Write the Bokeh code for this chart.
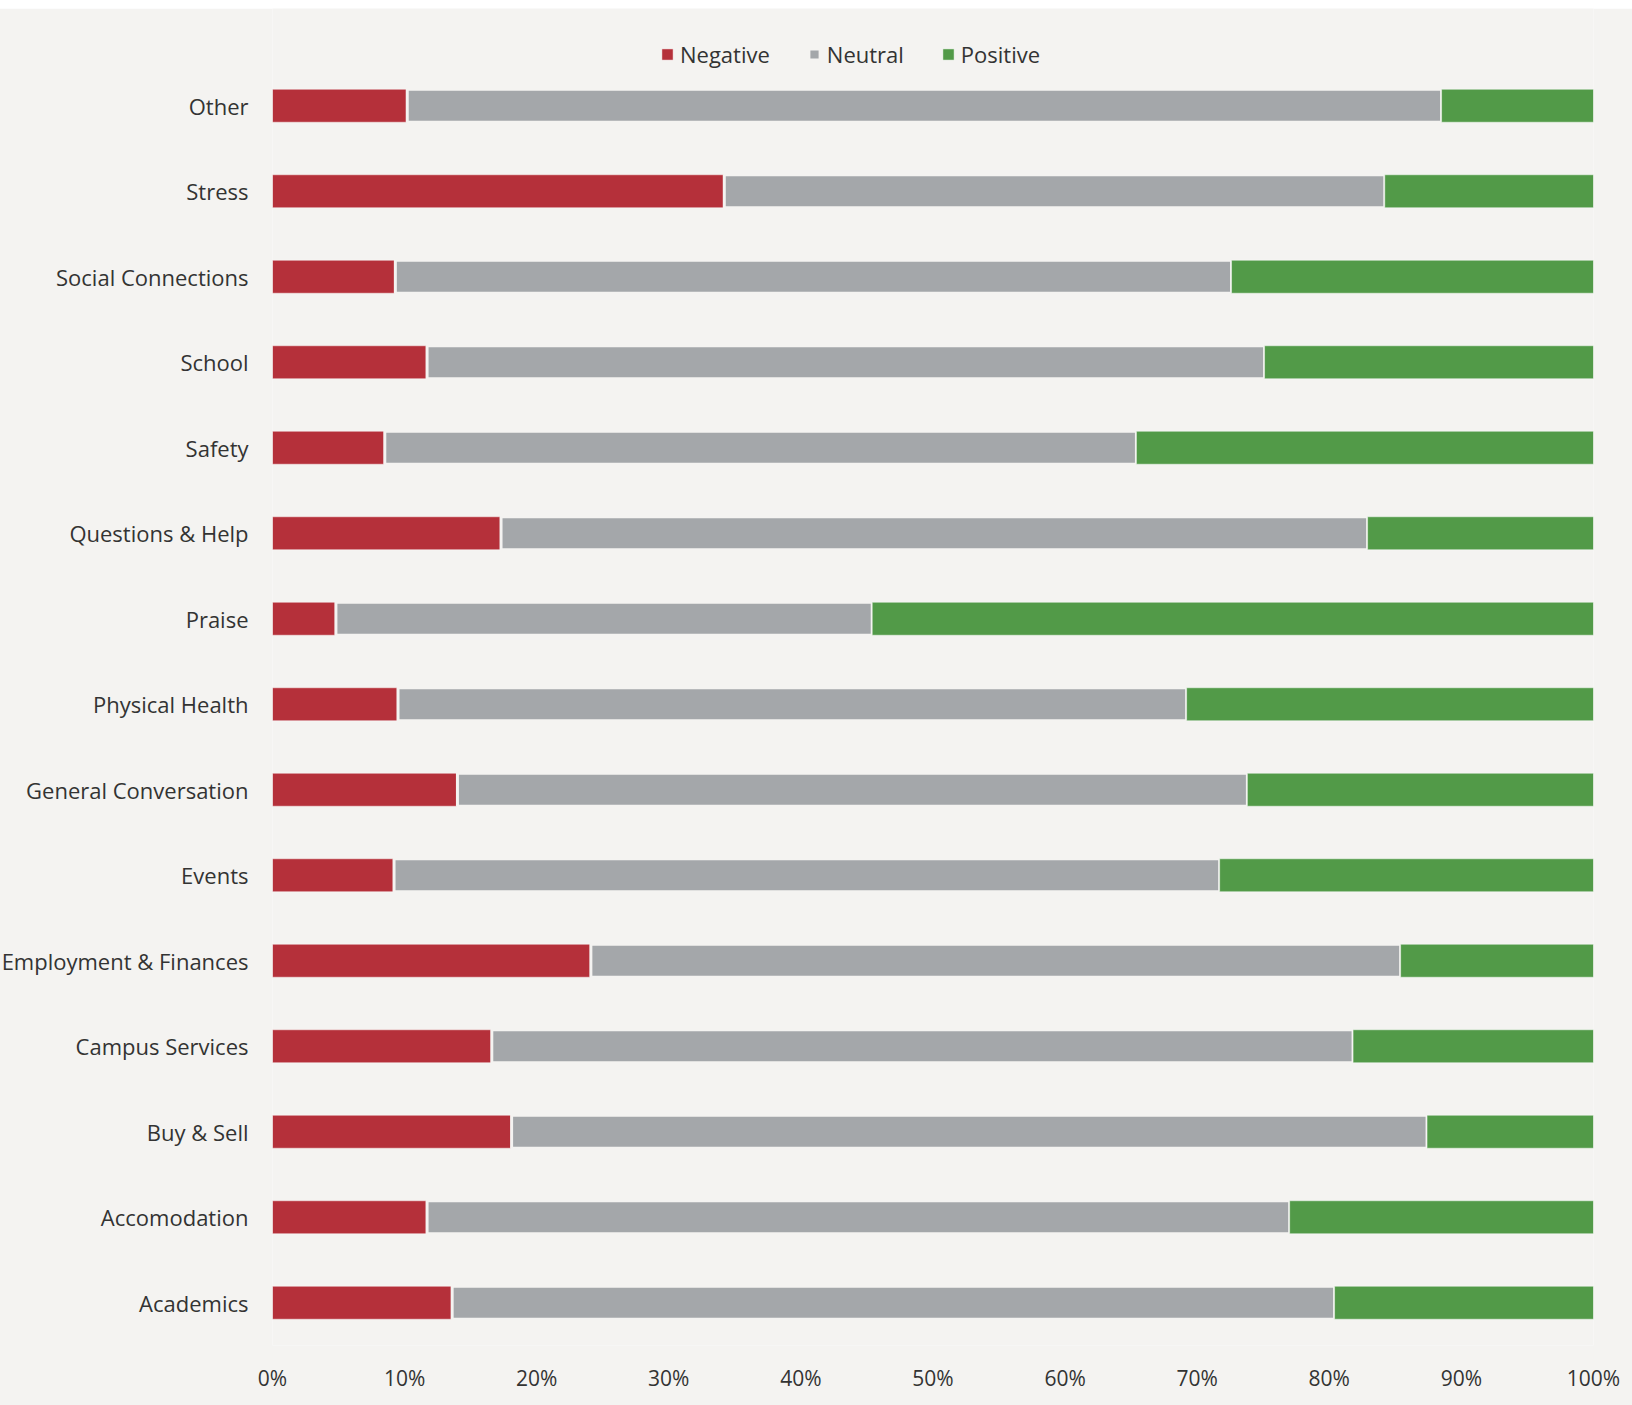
import numpy as np
from bokeh.plotting import figure
from bokeh.layouts import column
from bokeh.models import (ColumnDataSource, Range1d, FixedTicker, Legend, LegendItem, Spacer)
from bokeh.embed import file_html
from bokeh.resources import INLINE

# ---- data (top-to-bottom as displayed) ----
categories = ["Other", "Stress", "Social Connections", "School", "Safety",
              "Questions & Help", "Praise", "Physical Health", "General Conversation",
              "Events", "Employment & Finances", "Campus Services", "Buy & Sell",
              "Accomodation", "Academics"]
negative = [10.2, 34.2, 9.3, 11.7, 8.5, 17.3, 4.8, 9.5, 14.0, 9.2, 24.1, 16.6, 18.1, 11.7, 13.6]
neutral = [78.3, 50.0, 63.3, 63.4, 56.9, 65.6, 40.6, 59.7, 59.8, 62.5, 61.3, 65.2, 69.3, 65.3, 66.8]
positive = [11.5, 15.8, 27.4, 24.9, 34.6, 17.1, 54.6, 30.8, 26.2, 28.3, 14.6, 18.2, 12.6, 23.0, 19.6]
series_names = ["Negative", "Neutral", "Positive"]
x_ticks = [0, 10, 20, 30, 40, 50, 60, 70, 80, 90, 100]
tick_labels = ["0%", "10%", "20%", "30%", "40%", "50%", "60%", "70%", "80%", "90%", "100%"]

BG = "#f4f3f1"
TEXT = "#333333"
colors = ["#b5303a", "#a4a7aa", "#529a48"]
FONT = "Open Sans"

n = len(categories)
ypos = list(range(n - 1, -1, -1))  # Other at top, Academics at bottom

neg = np.array(negative)
neu = np.array(neutral)
pos = np.array(positive)
src = ColumnDataSource(dict(
    y=ypos,
    n0=np.zeros_like(neg), n1=neg,
    u0=neg, u1=neg + neu,
    p0=neg + neu, p1=neg + neu + pos,
))

p = figure(width=1642, height=1397, output_backend="svg", toolbar_location=None,
           y_range=Range1d(-0.5, -0.5 + 1337 / 85.5),
           x_range=Range1d(0, 100),
           min_border_left=277, min_border_right=39, min_border_top=0, min_border_bottom=60)
p.margin = (0, 0, 0, -5)
p.background_fill_color = BG
p.border_fill_color = BG
p.outline_line_color = None
p.grid.visible = False

H = 0.385
r_neg = p.hbar(y="y", left="n0", right="n1", height=H, source=src,
               fill_color=colors[0], line_color="white", line_alpha=0.45, line_width=1)
r_neu = p.hbar(y="y", left="u0", right="u1", height=H, source=src,
               fill_color=colors[1], line_color=BG, line_width=3)
r_pos = p.hbar(y="y", left="p0", right="p1", height=H, source=src,
               fill_color=colors[2], line_color="white", line_alpha=0.45, line_width=1)

# axes
p.xaxis.ticker = FixedTicker(ticks=x_ticks)
p.xaxis.major_label_overrides = {t: l for t, l in zip(x_ticks, tick_labels)}
p.yaxis.ticker = FixedTicker(ticks=ypos)
p.yaxis.major_label_overrides = {y: c for y, c in zip(ypos, categories)}
for ax in (p.xaxis, p.yaxis):
    ax.axis_line_color = None
    ax.major_tick_line_color = None
    ax.minor_tick_line_color = None
    ax.major_label_text_font = FONT
    ax.major_label_text_color = TEXT
p.xaxis.major_label_text_font_size = "21px"
p.xaxis.major_label_standoff = 12
p.yaxis.major_label_text_font_size = "22px"
p.yaxis.major_label_standoff = 18

legend = Legend(items=[LegendItem(label=series_names[0], renderers=[r_neg]),
                       LegendItem(label=series_names[1], renderers=[r_neu]),
                       LegendItem(label=series_names[2], renderers=[r_pos])],
                orientation="horizontal", location=(388, 1276),
                label_text_font=FONT, label_text_font_size="22px", label_text_color=TEXT,
                glyph_width=14, glyph_height=14, label_standoff=6, spacing=37,
                padding=0, margin=0, background_fill_alpha=0, border_line_color=None)
p.add_layout(legend, "center")

layout = column(Spacer(width=1632, height=8), p, spacing=0)
open("out.html", "w").write(file_html(layout, INLINE))
